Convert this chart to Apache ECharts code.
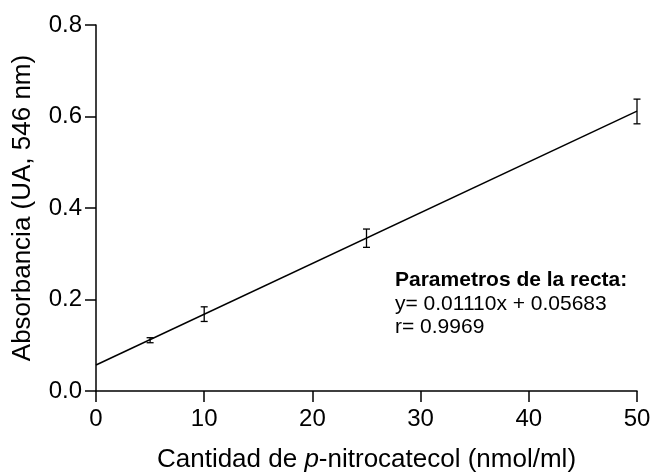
<!DOCTYPE html>
<html>
<head>
<meta charset="utf-8">
<script src="https://cdn.jsdelivr.net/npm/echarts@6/dist/echarts.min.js"></script>
<style>
  html, body { margin: 0; padding: 0; background: #fff; }
  #chart { width: 652px; height: 473px; }
</style>
</head>
<body>
<div id="chart"></div>
<script>
// Calibration data: p-nitrocatechol amount vs absorbance at 546 nm
const amounts = [5, 10, 25, 50];
const absorbance = [0.111, 0.168, 0.334, 0.611];
const errors = [0.0055, 0.016, 0.020, 0.027];

// Fitted line parameters
const slope = 0.01110;
const intercept = 0.05683;
const rValue = 0.9969;
const fitRange = [0, 50];

const xTicks = [0, 10, 20, 30, 40, 50];
const yTicks = [0, 0.2, 0.4, 0.6, 0.8];

const fitLine = fitRange.map(x => [x, slope * x + intercept]);
const errData = amounts.map((x, i) => [x, absorbance[i] - errors[i], absorbance[i] + errors[i]]);

const FONT = '"Liberation Sans", Arial, sans-serif';
const axisCommon = {
  axisLine: { show: true, lineStyle: { color: '#000', width: 1.5 } },
  axisTick: { show: true, inside: false, length: 11, lineStyle: { color: '#000', width: 1.5 } },
  splitLine: { show: false }
};

const chart = echarts.init(document.getElementById('chart'), null, { renderer: 'canvas' });
chart.setOption({
  animation: false,
  backgroundColor: '#fff',
  grid: { left: 96, right: 15, top: 25, bottom: 82, containLabel: false, outerBoundsMode: 'none' },
  xAxis: Object.assign({}, axisCommon, {
    type: 'value', min: xTicks[0], max: xTicks[xTicks.length - 1], interval: 10,
    name: 'Cantidad de {i|p}-nitrocatecol (nmol/ml)',
    nameLocation: 'middle', nameGap: 56,
    nameTextStyle: { color: '#000', fontSize: 26, fontFamily: FONT,
      rich: { i: { fontStyle: 'italic', fontSize: 26, fontFamily: FONT, color: '#000' } } },
    axisLabel: { color: '#000', fontSize: 24, fontFamily: FONT, margin: 16 }
  }),
  yAxis: Object.assign({}, axisCommon, {
    type: 'value', min: yTicks[0], max: yTicks[yTicks.length - 1], interval: 0.2,
    name: 'Absorbancia (UA, 546 nm)',
    nameLocation: 'middle', nameGap: 60, nameRotate: 90,
    nameTextStyle: { color: '#000', fontSize: 26, fontFamily: FONT },
    axisLabel: { color: '#000', fontSize: 24, fontFamily: FONT, margin: 14,
      formatter: v => v.toFixed(1) }
  }),
  series: [
    {
      type: 'line',
      data: fitLine,
      symbol: 'none',
      lineStyle: { color: '#000', width: 1.5 },
      z: 2
    },
    {
      type: 'custom',
      data: errData,
      renderItem: function (params, api) {
        const x = api.value(0);
        const lo = api.coord([x, api.value(1)]);
        const hi = api.coord([x, api.value(2)]);
        const cap = 3.5;
        const style = { stroke: '#000', lineWidth: 1.3 };
        return {
          type: 'group',
          children: [
            { type: 'line', shape: { x1: lo[0], y1: lo[1], x2: hi[0], y2: hi[1] }, style: style },
            { type: 'line', shape: { x1: lo[0] - cap, y1: lo[1], x2: lo[0] + cap, y2: lo[1] }, style: style },
            { type: 'line', shape: { x1: hi[0] - cap, y1: hi[1], x2: hi[0] + cap, y2: hi[1] }, style: style }
          ]
        };
      },
      z: 3
    }
  ],
  graphic: [
    { type: 'text', left: 395, top: 270,
      style: { text: 'Parametros de la recta:', font: 'bold 21px ' + FONT, fill: '#000' } },
    { type: 'text', left: 395, top: 294,
      style: { text: 'y= ' + slope.toFixed(5) + 'x + ' + intercept.toFixed(5), font: '21px ' + FONT, fill: '#000' } },
    { type: 'text', left: 395, top: 317,
      style: { text: 'r= ' + rValue.toFixed(4), font: '21px ' + FONT, fill: '#000' } }
  ]
});
</script>
</body>
</html>
